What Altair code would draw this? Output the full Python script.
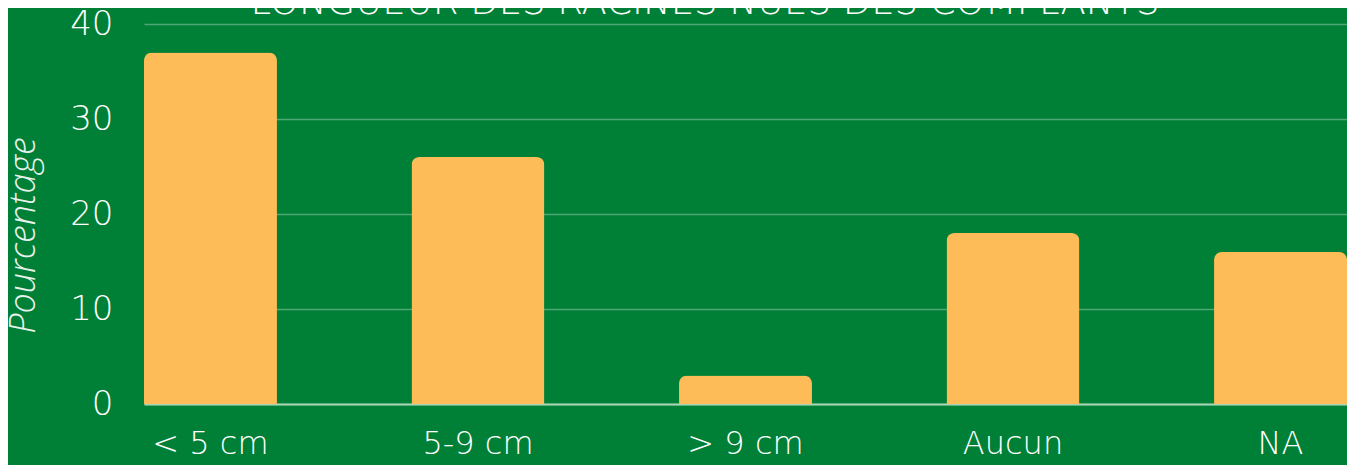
import altair as alt
import pandas as pd

categories = ["< 5 cm", "5-9 cm", "> 9 cm", "Aucun", "NA"]
values = [37, 26, 3, 18, 16]
y_ticks = [0, 10, 20, 30, 40]
title_text = "LONGUEUR DES RACINES NUES DES COMPLANTS"
y_title = "Pourcentage"

df = pd.DataFrame({"cat": categories, "pct": values})
title_df = pd.DataFrame({"t": [title_text]})

FONT = "DejaVu Sans"
BG = "#008037"
BAR = "#FDBC58"

bars = alt.Chart(df).mark_bar(
    color=BAR, cornerRadiusTopLeft=8, cornerRadiusTopRight=8
).encode(
    x=alt.X(
        "cat:N",
        sort=categories,
        scale=alt.Scale(paddingInner=0.503, paddingOuter=0),
        axis=alt.Axis(
            title=None, labelAngle=0, labelFontSize=32, labelColor="white",
            labelFont=FONT, labelFontWeight=200, labelPadding=24,
            domain=True, domainColor="#A8D6B4", domainWidth=2, ticks=False,
        ),
    ),
    y=alt.Y(
        "pct:Q",
        scale=alt.Scale(domain=[0, 40]),
        axis=alt.Axis(
            values=y_ticks, title=y_title, labelFontSize=34, labelColor="white",
            labelFont=FONT, labelFontWeight=200, labelPadding=31, ticks=False,
            domain=False, grid=True, gridColor="white", gridOpacity=0.3,
            gridWidth=1.5,
            titleFont="Open Sans", titleFontSize=36, titleFontStyle="italic",
            titleFontWeight=300, titleColor="#E8F2EC", titleAngle=270,
            titleX=-110, titleY=211, titleAlign="center",
            titleBaseline="alphabetic",
        ),
    ),
)

title = alt.Chart(title_df).mark_text(
    font=FONT, fontSize=37, fontWeight=200, color="white",
    align="center", baseline="alphabetic",
).encode(
    text="t:N",
    x=alt.value(561),
    y=alt.value(-10),
)

chart = alt.layer(bars, title).properties(
    width=1203,
    height=380,
    background=BG,
    padding={"left": 136, "top": 16, "right": 0, "bottom": 61},
    autosize=alt.AutoSizeParams(type="none"),
).configure_view(stroke=None)

chart.save("out.html", embed_options={"renderer": "svg", "actions": False})
